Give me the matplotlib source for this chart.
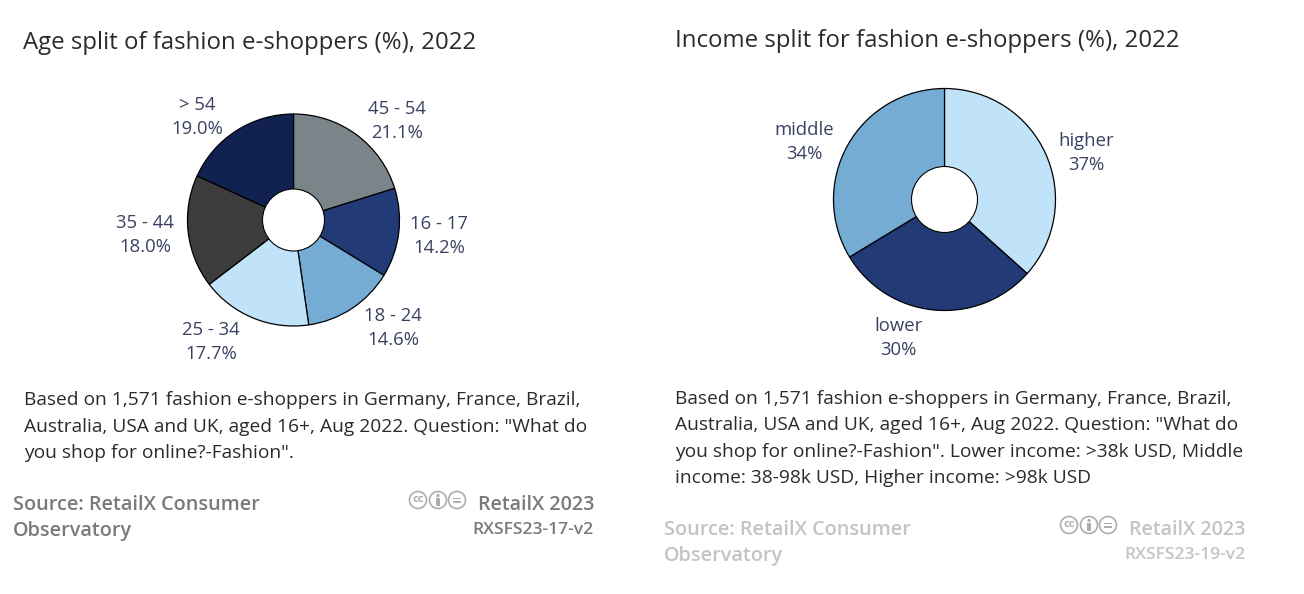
import matplotlib
matplotlib.use('Agg')
import matplotlib.pyplot as plt
from matplotlib.patches import Circle, Rectangle

plt.rcParams['font.family'] = ['Open Sans', 'DejaVu Sans']

age_labels = ['45 - 54', '16 - 17', '18 - 24', '25 - 34', '35 - 44', '> 54']
age_values = [21.1, 14.2, 14.6, 17.7, 18.0, 19.0]
age_colors = ['#7b8489', '#223a75', '#75acd4', '#c1e3fa', '#3d3d3d', '#122250']

income_labels = ['higher', 'lower', 'middle']
income_values = [37, 30, 34]
income_colors = ['#c1e3fa', '#223a75', '#75acd4']

age_title = 'Age split of fashion e-shoppers (%), 2022'
income_title = 'Income split for fashion e-shoppers (%), 2022'
age_note = ['Based on 1,571 fashion e-shoppers in Germany, France, Brazil,',
            'Australia, USA and UK, aged 16+, Aug 2022. Question: "What do',
            'you shop for online?-Fashion".']
income_note = ['Based on 1,571 fashion e-shoppers in Germany, France, Brazil,',
               'Australia, USA and UK, aged 16+, Aug 2022. Question: "What do',
               'you shop for online?-Fashion". Lower income: >38k USD, Middle',
               'income: 38-98k USD, Higher income: >98k USD']

TEXT = '#2b2b2b'
LABEL = '#3a4162'
H = 594

fig = plt.figure(figsize=(13.04, 5.94), dpi=100)
ax = fig.add_axes([0, 0, 1, 1])


def donut(values, labels, colors, fmt, cx, cy, r, hole, label_pos):
    tick = [l + '\n' + (fmt % v) for l, v in zip(labels, values)]
    wedges, texts = ax.pie(values, labels=tick, colors=colors, startangle=90, counterclock=False,
                           center=(cx, H - cy), radius=r,
                           wedgeprops={'edgecolor': 'black', 'linewidth': 0.9})
    for t, (x, y) in zip(texts, label_pos):
        # labels in the original do not sit on a fixed radius, so place them by hand
        t.set_position((x, H - y))
        t.set_ha('center')
        t.set_va('center')
        t.set_color(LABEL)
        t.set_fontsize(13.3)
        t.set_linespacing(1.36)
    ax.add_patch(Circle((cx, H - cy), hole, fc='white', ec='black', lw=0.8, zorder=5))


def cc_icons(xs, y, color):
    for x in xs:
        ax.add_patch(Circle((x, y), 8.5, fc='white', ec=color, lw=1.2))
    ax.text(xs[0], y + 0.5, 'cc', fontsize=8, fontweight='bold', color=color, ha='center', va='center')
    # little person
    ax.add_patch(Circle((xs[1], y + 4.5), 1.6, fc=color, ec='none', zorder=3))
    ax.add_patch(Rectangle((xs[1] - 2.2, y - 6), 4.4, 8.5, fc=color, ec='none', zorder=3))
    ax.add_patch(Rectangle((xs[2] - 4, y + 0.8), 8, 1.5, fc=color, ec='none', zorder=3))
    ax.add_patch(Rectangle((xs[2] - 4, y - 2.8), 8, 1.5, fc=color, ec='none', zorder=3))


def footer(x, y, code, color, icon_color, icon_xs, icon_y):
    ax.text(x, H - y - 2, 'Source: RetailX Consumer', fontsize=14.3, fontweight='semibold', color=color, va='center')
    ax.text(x, H - y - 28, 'Observatory', fontsize=14.3, fontweight='semibold', color=color, va='center')
    ax.text(x + 581, H - y - 2, 'RetailX 2023', fontsize=14.1, fontweight='semibold', color=color, va='center', ha='right')
    ax.text(x + 581, H - y - 27, code, fontsize=12.6, fontweight='semibold', color=color, va='center', ha='right')
    cc_icons(icon_xs, H - icon_y, icon_color)


donut(age_values, age_labels, age_colors, '%.1f%%', 293.5, 220, 106, 31,
      [(397, 121), (439, 236), (393, 328), (211, 342), (145, 235), (197, 117)])
donut(income_values, income_labels, income_colors, '%d%%', 944.5, 199.5, 111, 33,
      [(1086, 153), (898, 338), (804, 142)])

ax.text(23, H - 43, age_title, fontsize=17.3, color=TEXT, va='center')
ax.text(675, H - 41, income_title, fontsize=17.3, color=TEXT, va='center')

for i, line in enumerate(age_note):
    ax.text(24, H - 400 - i * 26.5, line, fontsize=13.8, color=TEXT, va='center')
for i, line in enumerate(income_note):
    ax.text(675, H - 399 - i * 26.3, line, fontsize=13.8, color=TEXT, va='center')

footer(13, 503, 'RXSFS23-17-v2', '#7a7a7a', '#adadad', [418, 438, 457], 500)
footer(664, 528, 'RXSFS23-19-v2', '#c4c4c4', '#adadad', [1069, 1089, 1108], 525)

ax.set_xlim(0, 1304)
ax.set_ylim(0, 594)
ax.set_aspect('equal')
ax.axis('off')
fig.savefig('out.png', dpi=100)
